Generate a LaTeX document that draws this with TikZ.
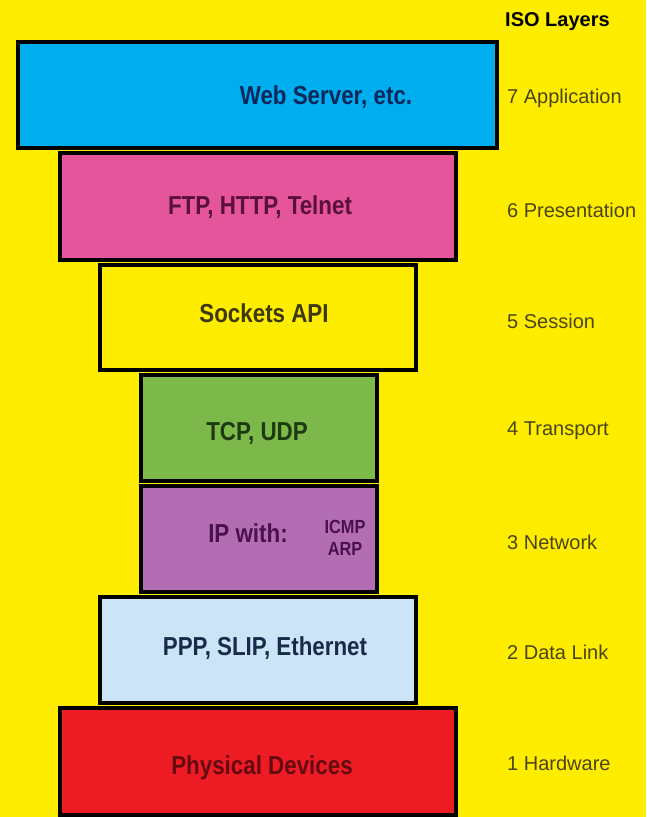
\documentclass[tikz,border=0pt]{standalone}
\usepackage{fontspec}
\setmainfont{Liberation Sans}
\newfontfamily\narrowfont[FakeStretch=0.86]{Liberation Sans}
\definecolor{bgyellow}{HTML}{FFED00}
\definecolor{appblue}{HTML}{00AEEF}
\definecolor{prespink}{HTML}{E4559B}
\definecolor{sesyellow}{HTML}{FFED00}
\definecolor{transgreen}{HTML}{7DB84A}
\definecolor{netpurple}{HTML}{B36DB3}
\definecolor{linkblue}{HTML}{CBE5F6}
\definecolor{hwred}{HTML}{ED1C24}
\definecolor{isotext}{HTML}{4A4418}
\begin{document}
\begin{tikzpicture}[x=1pt,y=-1pt,
  layer/.style={draw=black,line width=4.5pt,inner sep=0pt},
  boxtext/.style={font=\narrowfont\bfseries\fontsize{26}{28}\selectfont},
  isolabel/.style={anchor=west,inner sep=0pt,text=isotext,font=\fontsize{20}{22}\selectfont}]
\useasboundingbox[fill=bgyellow] (0,0) rectangle (646,817);
% the stack
\node[layer,fill=appblue,minimum width=479pt,minimum height=106pt] (app) at (257.5,95) {};
\node[layer,fill=prespink,minimum width=396pt,minimum height=107pt] (pres) at (258,206.5) {};
\node[layer,fill=sesyellow,minimum width=316pt,minimum height=105pt] (ses) at (258,317.5) {};
\node[layer,fill=transgreen,minimum width=236pt,minimum height=106pt] (trans) at (259,428) {};
\node[layer,fill=netpurple,minimum width=236pt,minimum height=106pt] (net) at (259,539) {};
\node[layer,fill=linkblue,minimum width=316pt,minimum height=106pt] (link) at (258,650) {};
\node[layer,fill=hwred,minimum width=396pt,minimum height=107pt] (hw) at (258,761.5) {};
% what runs in each layer
\node[boxtext,text={rgb,255:red,10;green,40;blue,90}] (apptxt) at (326,97) {Web Server, etc.};
\node[boxtext,text={rgb,255:red,90;green,16;blue,60}] (prestxt) at (260,207) {FTP, HTTP, Telnet};
\node[boxtext,text={rgb,255:red,60;green,56;blue,16}] (sestxt) at (264,313) {Sockets API};
\node[boxtext,text={rgb,255:red,30;green,58;blue,16}] (transtxt) at (257,433) {TCP, UDP};
\node[boxtext,text={rgb,255:red,74;green,16;blue,80}] (nettxt) at (248,533) {IP with:};
\node[boxtext,text={rgb,255:red,74;green,16;blue,80},font=\narrowfont\bfseries\fontsize{19}{22}\selectfont,align=center] (icmptxt) at (345,538) {ICMP\\ARP};
\node[boxtext,text={rgb,255:red,26;green,42;blue,74}] (linktxt) at (265,648) {PPP, SLIP, Ethernet};
\node[boxtext,text={rgb,255:red,100;green,10;blue,16}] (hwtxt) at (262,768) {Physical Devices};
% iso names
\node[isolabel,text=black,font=\bfseries\fontsize{20}{22}\selectfont] (iso) at (505,22) {ISO Layers};
\node[isolabel] (l7) at (507,98) {7 Application};
\node[isolabel] (l6) at (507,210) {6 Presentation};
\node[isolabel] (l5) at (507,321) {5 Session};
\node[isolabel] (l4) at (507,431) {4 Transport};
\node[isolabel] (l3) at (507,542) {3 Network};
\node[isolabel] (l2) at (507,652) {2 Data Link};
\node[isolabel] (l1) at (507,763) {1 Hardware};
\end{tikzpicture}
\end{document}
